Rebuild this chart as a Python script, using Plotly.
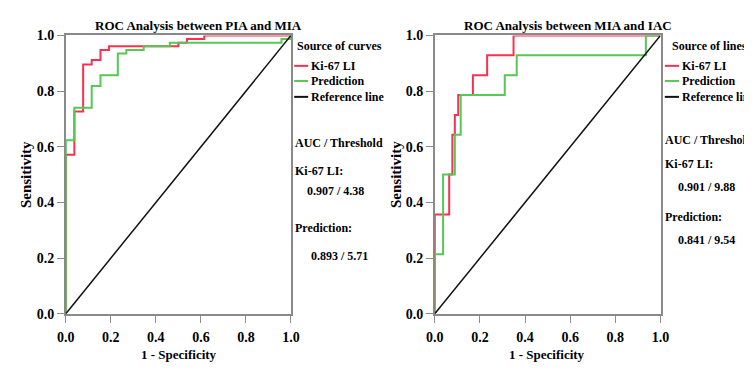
import plotly.graph_objects as go

W, H = 752, 373
OFF = 8  # page body margin shift

# ---- data ----
left_ki67_fpr = [0, 0, 0.038, 0.077, 0.115, 0.154, 0.192, 0.500, 0.538, 0.615, 1.0]
left_ki67_tpr = [0, 0.571, 0.727, 0.896, 0.912, 0.948, 0.961, 0.974, 0.987, 1.0, 1.0]
left_pred_fpr = [0, 0, 0.038, 0.115, 0.154, 0.231, 0.269, 0.346, 0.462, 0.958, 1.0]
left_pred_tpr = [0, 0.623, 0.740, 0.818, 0.857, 0.935, 0.948, 0.961, 0.974, 0.987, 1.0]

right_ki67_fpr = [0, 0, 0.064, 0.078, 0.089, 0.104, 0.169, 0.232, 0.349, 1.0]
right_ki67_tpr = [0, 0.357, 0.500, 0.643, 0.714, 0.786, 0.857, 0.929, 1.0, 1.0]
right_pred_fpr = [0, 0, 0.037, 0.089, 0.115, 0.310, 0.363, 0.935, 1.0]
right_pred_tpr = [0, 0.214, 0.500, 0.643, 0.786, 0.857, 0.929, 1.0, 1.0]

ref_line = [0, 1]
tick_vals = [0, 0.2, 0.4, 0.6, 0.8, 1.0]
tick_text = ["0.0", "0.2", "0.4", "0.6", "0.8", "1.0"]

titles = ["ROC Analysis between PIA and MIA", "ROC Analysis between MIA and IAC"]
legend_titles = ["Source of curves", "Source of lines"]
series_names = ["Ki-67 LI", "Prediction", "Reference line"]
auc_left = ["0.907 / 4.38", "0.893 / 5.71"]
auc_right = ["0.901 / 9.88", "0.841 / 9.54"]

RED = "#fa3050"
GREEN = "#55c855"
BLACK = "#111111"
AXIS = "#8a8a8a"
FONT = "Liberation Serif"


def PX(t):
    return (t - OFF) / W


def PY(t):
    return 1 - (t - OFF) / H


fig = go.Figure()


def add_curves(fx, fy, gx, gy, xa, ya):
    fig.add_trace(go.Scatter(x=fx, y=fy, mode="lines", line=dict(color=RED, width=2, shape="hv"),
                             xaxis=xa, yaxis=ya, showlegend=False, hoverinfo="skip"))
    fig.add_trace(go.Scatter(x=gx, y=gy, mode="lines", line=dict(color=GREEN, width=2, shape="hv"),
                             xaxis=xa, yaxis=ya, showlegend=False, hoverinfo="skip"))
    fig.add_trace(go.Scatter(x=ref_line, y=ref_line, mode="lines", line=dict(color=BLACK, width=1.5),
                             xaxis=xa, yaxis=ya, showlegend=False, hoverinfo="skip"))


add_curves(left_ki67_fpr, left_ki67_tpr, left_pred_fpr, left_pred_tpr, "x", "y")
add_curves(right_ki67_fpr, right_ki67_tpr, right_pred_fpr, right_pred_tpr, "x2", "y2")

ydom = [PY(319.3), PY(29.3)]
axis_common = dict(
    range=[0, 1], tickvals=tick_vals, ticktext=tick_text, showgrid=False, zeroline=False,
    showline=True, linecolor=AXIS, linewidth=1.5, mirror=True,
    ticks="outside", ticklen=7, tickwidth=1.3, tickcolor=AXIS,
    tickfont=dict(family=FONT, size=14, color="black", weight="bold"),
    layer="below traces",
)

fig.update_layout(
    width=W, height=H, margin=dict(l=0, r=0, t=0, b=0),
    paper_bgcolor="white", plot_bgcolor="white", showlegend=False,
    xaxis=dict(domain=[PX(58), PX(288.7)], anchor="y", ticklabelstandoff=3, **axis_common),
    yaxis=dict(domain=ydom, anchor="x", **axis_common),
    xaxis2=dict(domain=[PX(436), PX(667.3)], anchor="y2", ticklabelstandoff=3, **axis_common),
    yaxis2=dict(domain=ydom, anchor="x2", **axis_common),
)


def ann(text, xpx, ypx, size=12, xanchor="left", angle=0):
    fig.add_annotation(text=text, xref="paper", yref="paper", x=PX(xpx), y=PY(ypx),
                       xanchor=xanchor, yanchor="middle", showarrow=False, textangle=angle,
                       font=dict(family=FONT, size=size, color="black", weight="bold"))


def hline(x0, x1, ypx, color):
    fig.add_shape(type="line", xref="paper", yref="paper", x0=PX(x0), x1=PX(x1),
                  y0=PY(ypx), y1=PY(ypx), line=dict(color=color, width=2))


# titles and axis titles
ann(titles[0], 194, 19, size=13, xanchor="center")
ann(titles[1], 573, 19, size=13, xanchor="center")
ann("1 - Specificity", 173.5, 362, size=13, xanchor="center")
ann("1 - Specificity", 551.5, 362, size=13, xanchor="center")
ann("Sensitivity", 18, 174, size=15, xanchor="center", angle=-90)
ann("Sensitivity", 397, 174, size=15, xanchor="center", angle=-90)

# legend panels
colors = [RED, GREEN, BLACK]
panels = [
    dict(lx=292, tx=307.3, title_x=292.7, title=legend_titles[0], auc=auc_left,
         base=290.7, v1x=302.7, v2x=306.7, ys=[40, 61, 76.7, 93.3, 141.7, 170.7, 191.7, 230, 259.3]),
    dict(lx=671.7, tx=687.3, title_x=676.7, title=legend_titles[1], auc=auc_right,
         base=669.5, v1x=682.7, v2x=682.7, ys=[40, 61, 76.7, 93.3, 138.3, 163.3, 186.7, 218.3, 242.7]),
]
for p in panels:
    ys = p["ys"]
    ann(p["title"], p["title_x"], ys[0])
    for i, name in enumerate(series_names):
        hline(p["lx"], p["tx"] - 1, ys[1 + i], colors[i])
        ann(name, p["tx"], ys[1 + i])
    ann("AUC / Threshold", p["base"], ys[4])
    ann("Ki-67 LI:", p["base"], ys[5])
    ann(p["auc"][0], p["v1x"], ys[6])
    ann("Prediction:", p["base"], ys[7])
    ann(p["auc"][1], p["v2x"], ys[8])

fig.write_html("out.html")
